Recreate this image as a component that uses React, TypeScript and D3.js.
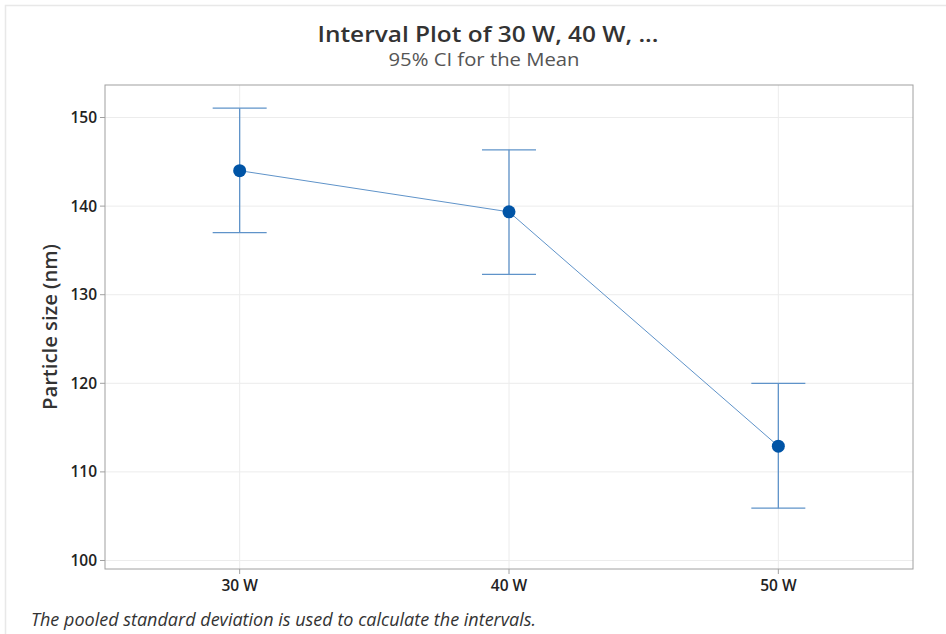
import React from "react";
import * as d3 from "d3";

const categories = ["30 W", "40 W", "50 W"];
const means = [144.0, 139.35, 112.9];
const upper = [151.05, 146.35, 120.0];
const lower = [137.0, 132.3, 105.9];
const yTicks = [100, 110, 120, 130, 140, 150];

const W = 946;
const H = 634;
const M = { left: 105, right: 913, top: 85, bottom: 569 };
const FONT = "'Open Sans', 'Noto Sans', sans-serif";

export default function App() {
  const x = d3.scaleLinear().domain([-0.5, categories.length - 0.5]).range([M.left, M.right]);
  const y = d3.scaleLinear().domain([99.04, 153.67]).range([M.bottom, M.top]);
  const line = d3
    .line<number>()
    .x((_, i) => x(i))
    .y((d) => y(d));
  const cap = 27;
  const blue = "#5f93c9";
  return (
    <svg width={W} height={H} style={{ position: "absolute", left: 0, top: 0 }}>
      <rect x={0} y={0} width={W} height={H} fill="#fff" />
      <rect x={5.5} y={5.5} width={W + 10} height={H + 10} fill="none" stroke="#e8e8e8" strokeWidth={1.5} />
      <text x={488} y={42} textAnchor="middle" fontFamily={FONT} fontSize={22} fontWeight={600} fill="#333" textLength={341} lengthAdjust="spacingAndGlyphs">
        Interval Plot of 30 W, 40 W, ...
      </text>
      <text x={484} y={66} textAnchor="middle" fontFamily={FONT} fontSize={18} fill="#555" textLength={191} lengthAdjust="spacingAndGlyphs">
        95% CI for the Mean
      </text>
      {yTicks.map((t) => (
        <g key={t}>
          <line x1={M.left} x2={M.right} y1={y(t)} y2={y(t)} stroke="#ececec" strokeWidth={1} />
          <line x1={M.left - 5} x2={M.left} y1={y(t)} y2={y(t)} stroke="#a0a0a0" />
          <text x={M.left - 8} y={y(t) + 5.5} textAnchor="end" fontFamily={FONT} fontSize={15.5} fontWeight={600} fill="#222">
            {t}
          </text>
        </g>
      ))}
      {categories.map((c, i) => (
        <g key={c}>
          <line x1={x(i)} x2={x(i)} y1={M.top} y2={M.bottom} stroke="#ececec" />
          <line x1={x(i)} x2={x(i)} y1={M.bottom} y2={M.bottom + 5} stroke="#a0a0a0" />
          <text x={x(i)} y={M.bottom + 22} textAnchor="middle" fontFamily={FONT} fontSize={15.5} fontWeight={600} fill="#222">
            {c}
          </text>
        </g>
      ))}
      <rect x={M.left} y={M.top} width={M.right - M.left} height={M.bottom - M.top} fill="none" stroke="#a0a0a0" strokeWidth={1} />
      <text
        transform={`translate(57, ${(M.top + M.bottom) / 2}) rotate(-90)`}
        textAnchor="middle"
        fontFamily={FONT}
        fontSize={20}
        fontWeight={600}
        fill="#333"
        textLength={166}
        lengthAdjust="spacingAndGlyphs"
      >
        Particle size (nm)
      </text>
      {categories.map((c, i) => (
        <g key={c} stroke={blue} strokeWidth={1.3}>
          <line x1={x(i)} x2={x(i)} y1={y(upper[i])} y2={y(lower[i])} />
          <line x1={x(i) - cap} x2={x(i) + cap} y1={y(upper[i])} y2={y(upper[i])} />
          <line x1={x(i) - cap} x2={x(i) + cap} y1={y(lower[i])} y2={y(lower[i])} />
        </g>
      ))}
      <path d={line(means) || ""} fill="none" stroke={blue} strokeWidth={1} />
      {means.map((m, i) => (
        <circle key={i} cx={x(i)} cy={y(m)} r={6.5} fill="#0054a6" />
      ))}
      <text x={31} y={626} fontFamily={FONT} fontSize={17.5} fontStyle="italic" fill="#333" textLength={505} lengthAdjust="spacingAndGlyphs">
        The pooled standard deviation is used to calculate the intervals.
      </text>
    </svg>
  );
}
